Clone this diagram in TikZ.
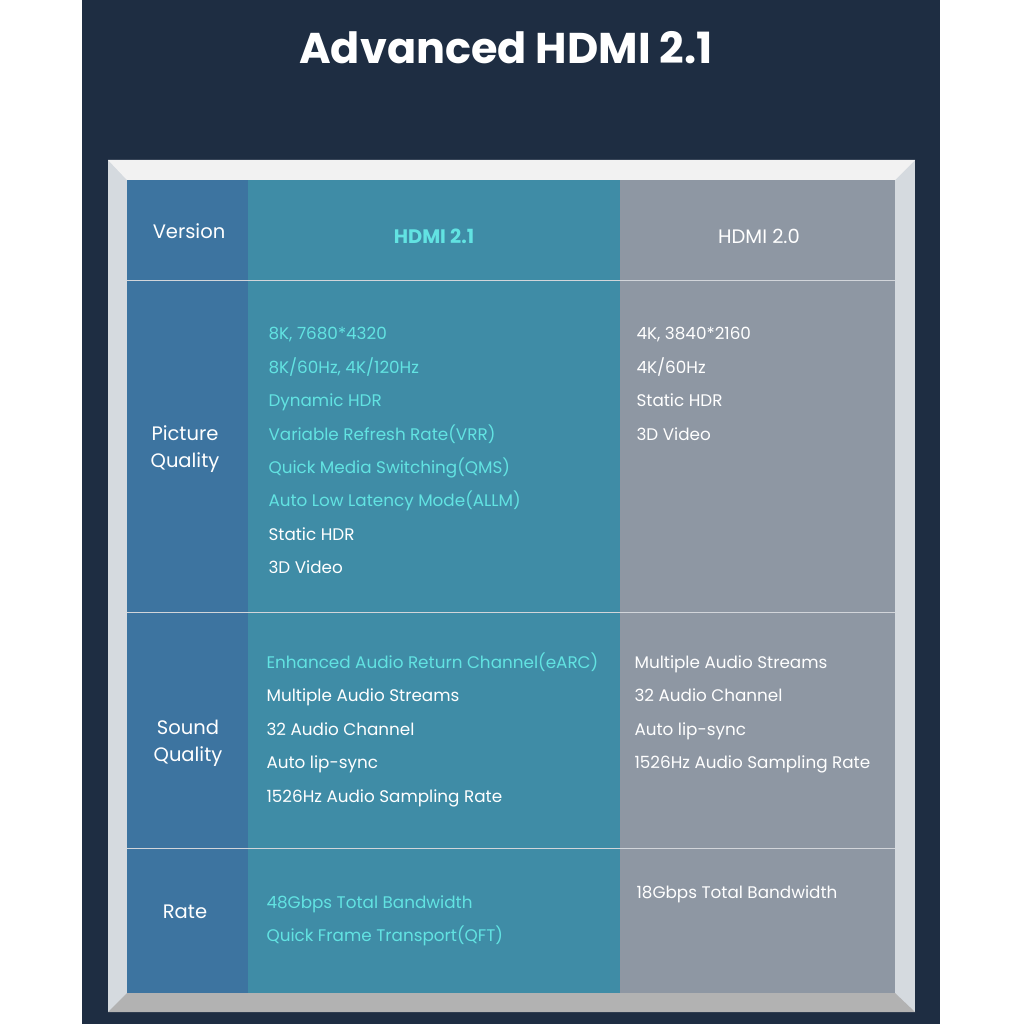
\documentclass[tikz,border=0pt]{standalone}
\usepackage{fontspec}
\setmainfont{Poppins}
\begin{document}
\begin{tikzpicture}[x=1pt,y=-1pt,
  cyantxt/.style={anchor=west,text=cyanT,text height=12pt,text depth=3pt,font=\fontsize{16.8}{18}\selectfont},
  whitetxt/.style={anchor=west,text=white,text height=12pt,text depth=3pt,font=\fontsize{16.8}{18}\selectfont},
  head/.style={text=white,font=\fontsize{19.5}{27}\selectfont,align=center}]
\definecolor{navy}{HTML}{1E2D42}
\definecolor{colA}{HTML}{3D74A0}
\definecolor{colB}{HTML}{3F8CA6}
\definecolor{colC}{HTML}{8E97A3}
\definecolor{cyanT}{HTML}{62E3E2}
\definecolor{frame}{HTML}{D5DADF}
\useasboundingbox (0,0) rectangle (1024,1024);
\fill[white] (0,0) rectangle (1024,1024);
\fill[navy] (82,0) rectangle (940,1024);
\node[text=white,font=\fontsize{43}{50}\selectfont\bfseries] (title) at (506,48) {Advanced HDMI 2.1};
\fill[frame] (108,160) rectangle (915,1012);
\fill[white!90!gray] (108,160) -- (915,160) -- (895,180) -- (127,180) -- cycle;
\fill[gray!60] (108,1012) -- (915,1012) -- (895,993) -- (127,993) -- cycle;
\fill[colA] (127,180) rectangle (248,993);
\fill[colB] (248,180) rectangle (620,993);
\fill[colC] (620,180) rectangle (895,993);
\foreach \y in {280,612,848} \draw[white!60!colC,line width=0.8pt] (127,\y) -- (895,\y);
\node[head] (v) at (189,231) {Version};
\node[head,text=cyanT,font=\fontsize{19.5}{22}\selectfont\bfseries] (h21) at (434,236) {HDMI 2.1};
\node[head] (h20) at (759,236) {HDMI 2.0};
\node[head] (pq) at (185,449) {Picture\\Quality};
\node[head] (sq) at (188,743) {Sound\\Quality};
\node[head] (rt) at (185,912) {Rate};
\node[cyantxt] (p1) at (265,335) {8K, 7680*4320};
\node[cyantxt] (p2) at (265,369) {8K/60Hz, 4K/120Hz};
\node[cyantxt] (p3) at (265,402) {Dynamic HDR};
\node[cyantxt] (p4) at (265,436) {Variable Refresh Rate(VRR)};
\node[cyantxt] (p5) at (265,469) {Quick Media Switching(QMS)};
\node[cyantxt] (p6) at (265,502) {Auto Low Latency Mode(ALLM)};
\node[whitetxt] (p7) at (265,536) {Static HDR};
\node[whitetxt] (p8) at (265,569) {3D Video};
\node[whitetxt] (q1) at (633,335) {4K, 3840*2160};
\node[whitetxt] (q2) at (633,369) {4K/60Hz};
\node[whitetxt] (q3) at (633,402) {Static HDR};
\node[whitetxt] (q4) at (633,436) {3D Video};
\node[cyantxt] (s1) at (263,664) {Enhanced Audio Return Channel(eARC)};
\node[whitetxt] (s2) at (263,697) {Multiple Audio Streams};
\node[whitetxt] (s3) at (263,731) {32 Audio Channel};
\node[whitetxt] (s4) at (263,764) {Auto lip-sync};
\node[whitetxt] (s5) at (263,798) {1526Hz Audio Sampling Rate};
\node[whitetxt] (t1) at (631,664) {Multiple Audio Streams};
\node[whitetxt] (t2) at (631,697) {32 Audio Channel};
\node[whitetxt] (t3) at (631,731) {Auto lip-sync};
\node[whitetxt] (t4) at (631,764) {1526Hz Audio Sampling Rate};
\node[cyantxt] (r1) at (263,904) {48Gbps Total Bandwidth};
\node[cyantxt] (r2) at (263,937) {Quick Frame Transport(QFT)};
\node[whitetxt] (r3) at (633,894) {18Gbps Total Bandwidth};
\end{tikzpicture}
\end{document}
